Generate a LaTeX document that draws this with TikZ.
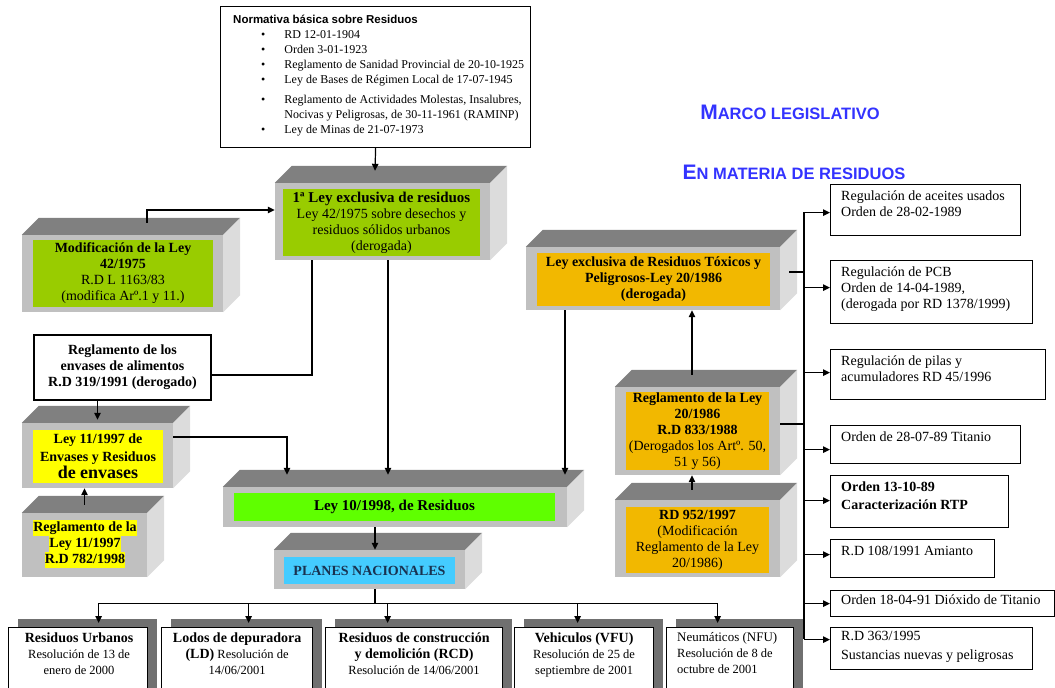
\documentclass[tikz,border=0pt]{standalone}
\usepackage{fontspec}
\setmainfont{Liberation Serif}
\setsansfont{Liberation Sans}
\usepackage{tikz}
\usetikzlibrary{arrows.meta,shadows}

\definecolor{verdeoliva}{RGB}{153,204,0}
\definecolor{verdelima}{RGB}{95,255,0}
\definecolor{amarillo}{RGB}{255,255,0}
\definecolor{naranja}{RGB}{242,184,0}
\definecolor{celeste}{RGB}{68,204,255}
\definecolor{azultitulo}{RGB}{51,51,255}
\definecolor{azulplanes}{RGB}{25,50,80}
\definecolor{grisfrente}{RGB}{192,192,192}
\definecolor{grissup}{RGB}{128,128,128}
\definecolor{grislat}{RGB}{220,220,220}
\definecolor{grissombra}{RGB}{112,112,112}

\tikzset{
  frente/.style={fill=grisfrente, inner sep=0pt},
  cara sup/.style={fill=grissup},
  cara lat/.style={fill=grislat},
  relleno/.style={inner sep=0pt, align=center, font=\fontsize{14}{16}\selectfont},
  caja/.style={draw, fill=white, line width=1.2pt, inner sep=0pt},
  plan/.style={caja, anchor=north west, minimum height=80pt,
    general shadow={fill=grissombra, draw=none, shadow xshift=9pt, shadow yshift=9pt}},
  nota/.style={anchor=north west, inner sep=0pt, align=left, font=\fontsize{14}{16}\selectfont},
  titulo/.style={text=azultitulo, inner sep=0pt, font=\sffamily\bfseries\fontsize{16.5}{18}\selectfont},
  flecha/.style={-{Triangle[length=7pt,width=6.5pt]}, line width=1.2pt},
  linea/.style={line width=1.2pt},
}

% bloque en relieve: nombre, centro, medidas de la cara frontal
\newcommand{\bloque}[3]{%
  \node[frente, #3] (#1) at (#2) {};
  \fill[cara sup] (#1.north west) -- ++(17,-17) -- ([shift={(17,-17)}]#1.north east) -- (#1.north east) -- cycle;
  \fill[cara lat] (#1.north east) -- ++(17,-17) -- ([shift={(17,-17)}]#1.south east) -- (#1.south east) -- cycle;
}
\newcommand{\resalta}[1]{{\setlength{\fboxsep}{0pt}\colorbox{amarillo}{\strut #1}}}

\begin{document}
\begin{tikzpicture}[x=1pt,y=-1pt]
  \path[use as bounding box] (0,0) rectangle (1055,688);
  \clip (0,0) rectangle (1055,688);

  % normativa basica
  \node[caja, anchor=north west, minimum width=310pt, minimum height=141pt] (normativa) at (220,6) {};
  \node[anchor=north west, inner sep=0pt, font=\fontsize{12}{15}\selectfont] (normativaT) at (233,13) {%
    \begin{tabular}{@{\hspace{28pt}}l@{\hspace{19pt}}l@{}}
      \multicolumn{2}{@{}l@{}}{\sffamily\bfseries\fontsize{11.5}{15}\selectfont Normativa básica sobre Residuos}\\
      \textbullet & RD 12-01-1904\\
      \textbullet & Orden 3-01-1923\\
      \textbullet & Reglamento de Sanidad Provincial de 20-10-1925\\
      \textbullet & Ley de Bases de Régimen Local de 17-07-1945\\[5pt]
      \textbullet & Reglamento de Actividades Molestas, Insalubres,\\
                  & Nocivas y Peligrosas, de 30-11-1961 (RAMINP)\\
      \textbullet & Ley de Minas de 21-07-1973
    \end{tabular}};

  % titulo
  \node[titulo] (titulo1) at (790,112) {{\fontsize{21}{18}\selectfont M}ARCO LEGISLATIVO};
  \node[titulo] (titulo2) at (794,172) {{\fontsize{21}{18}\selectfont E}N MATERIA DE RESIDUOS};

  % leyes en relieve
  \bloque{ley75}{382.5,221.5}{minimum width=215pt, minimum height=77pt}
  \node[relleno, fill=verdeoliva, minimum width=197pt, minimum height=67pt] (ley75T) at (381.5,222.5)
    {{\bfseries\fontsize{15}{16}\selectfont 1ª Ley exclusiva de residuos}\\ Ley 42/1975 sobre desechos y\\ residuos sólidos urbanos\\ (derogada)};

  \bloque{mod75}{122.5,273.5}{minimum width=201pt, minimum height=77pt}
  \node[relleno, fill=verdeoliva, minimum width=180pt, minimum height=67pt] (mod75T) at (123,273.5)
    {\textbf{Modificación de la Ley}\\ \textbf{42/1975}\\ R.D L 1163/83\\ (modifica Arº.1 y 11.)};

  \bloque{ley98}{395,507}{minimum width=344pt, minimum height=40pt}
  \node[relleno, fill=verdelima, minimum width=321pt, minimum height=28pt, font=\bfseries\fontsize{15}{16}\selectfont] (ley98T) at (394.5,507)
    {Ley 10/1998, de Residuos};

  \bloque{planes}{369.5,569.5}{minimum width=191pt, minimum height=39pt}
  \node[relleno, fill=celeste, text=azulplanes, minimum width=171pt, minimum height=27pt, font=\bfseries\fontsize{14}{16}\selectfont] (planesT) at (369.5,570.5)
    {PLANES NACIONALES};

  \bloque{ley97}{97.5,455.5}{minimum width=151pt, minimum height=65pt}
  \node[relleno, fill=amarillo, minimum width=130pt, minimum height=53pt, font=\bfseries\fontsize{14}{17.5}\selectfont] (ley97T) at (98,456.5)
    {Ley 11/1997 de\\ Envases y Residuos\\ {\fontsize{18}{17.5}\selectfont de envases}};

  \bloque{reg97}{84.5,545}{minimum width=125pt, minimum height=64pt}
  \node[relleno, font=\bfseries\fontsize{14}{16}\selectfont] (reg97T) at (85,544)
    {\resalta{Reglamento de la}\\ \resalta{Ley 11/1997}\\ \resalta{R.D 782/1998}};

  \bloque{ley86}{653,278.5}{minimum width=254pt, minimum height=63pt}
  \node[relleno, fill=naranja, minimum width=233pt, minimum height=53pt, font=\bfseries\fontsize{14}{16}\selectfont] (ley86T) at (653.5,279.5)
    {Ley exclusiva de Residuos Tóxicos y\\ Peligrosos-Ley 20/1986\\ (derogada)};

  \bloque{reg86}{697.5,431}{minimum width=165pt, minimum height=88pt}
  \node[relleno, fill=naranja, minimum width=143pt, minimum height=78pt] (reg86T) at (697.5,431)
    {\textbf{Reglamento de la Ley}\\ \textbf{20/1986}\\ \textbf{R.D 833/1988}\\ (Derogados los Artº. 50,\\ 51 y 56)};

  \bloque{rd952}{697.5,538.5}{minimum width=165pt, minimum height=77pt}
  \node[relleno, fill=naranja, minimum width=143pt, minimum height=66pt] (rd952T) at (697.5,540)
    {\textbf{RD 952/1997}\\ (Modificación\\ Reglamento de la Ley\\ 20/1986)};

  \node[caja, minimum width=177pt, minimum height=65pt, align=center, font=\bfseries\fontsize{14}{16}\selectfont] (envases) at (122.5,367.5)
    {Reglamento de los\\ envases de alimentos\\ R.D 319/1991 (derogado)};

  % normas de la derecha
  \node[caja, anchor=north west, minimum width=190pt, minimum height=51pt] (aceites) at (830,184) {};
  \node[nota] (aceitesT) at ([shift={(11,7)}]aceites.north west) {Regulación de aceites usados\\ Orden de 28-02-1989};
  \node[caja, anchor=north west, minimum width=202pt, minimum height=63pt] (pcb) at (830,260) {};
  \node[nota] (pcbT) at ([shift={(11,7)}]pcb.north west) {Regulación de PCB\\ Orden de 14-04-1989,\\ (derogada por RD 1378/1999)};
  \node[caja, anchor=north west, minimum width=215pt, minimum height=50pt] (pilas) at (830,349) {};
  \node[nota] (pilasT) at ([shift={(11,7)}]pilas.north west) {Regulación de pilas y\\ acumuladores RD 45/1996};
  \node[caja, anchor=north west, minimum width=190pt, minimum height=38pt] (titanio) at (830,425) {};
  \node[nota] (titanioT) at ([shift={(11,7)}]titanio.north west) {Orden de 28-07-89 Titanio};
  \node[caja, anchor=north west, minimum width=178pt, minimum height=52pt] (rtp) at (830,475) {};
  \node[nota, font=\bfseries\fontsize{14}{18}\selectfont] (rtpT) at ([shift={(11,7)}]rtp.north west) {Orden 13-10-89\\ Caracterización RTP};
  \node[caja, anchor=north west, minimum width=164pt, minimum height=38pt] (amianto) at (830,539) {};
  \node[nota] (amiantoT) at ([shift={(11,7)}]amianto.north west) {R.D 108/1991 Amianto};
  \node[caja, anchor=north west, minimum width=224pt, minimum height=26pt] (dioxido) at (830,590) {};
  \node[nota] (dioxidoT) at ([shift={(11,5)}]dioxido.north west) {Orden 18-04-91 Dióxido de Titanio};
  \node[caja, anchor=north west, minimum width=202pt, minimum height=42pt] (rd363) at (830,627) {};
  \node[nota, font=\fontsize{14}{19}\selectfont] (rd363T) at ([shift={(11,4)}]rd363.north west) {R.D 363/1995\\ Sustancias nuevas y peligrosas};

  % planes nacionales
  \node[plan, minimum width=139pt] (ru) at (8,627) {};
  \node[plan, minimum width=151pt] (ld) at (161,627) {};
  \node[plan, minimum width=177pt] (rcd) at (325,627) {};
  \node[plan, minimum width=139pt] (vfu) at (514,627) {};
  \node[plan, minimum width=127pt] (nfu) at (666,627) {};
  \node[anchor=north, inner sep=0pt, align=center, font=\fontsize{12.5}{16}\selectfont] (ruT) at ([shift={(1,6)}]ru.north)
    {{\bfseries\fontsize{14}{16}\selectfont Residuos Urbanos}\\ Resolución de 13 de\\ enero de 2000};
  \node[anchor=north, inner sep=0pt, align=center, font=\fontsize{12.5}{16}\selectfont] (ldT) at ([shift={(0,6)}]ld.north)
    {{\bfseries\fontsize{14}{16}\selectfont Lodos de depuradora}\\ {\bfseries\fontsize{14}{16}\selectfont (LD)} Resolución de\\ 14/06/2001};
  \node[anchor=north, inner sep=0pt, align=center, font=\fontsize{12.5}{16}\selectfont] (rcdT) at ([shift={(0,6)}]rcd.north)
    {{\bfseries\fontsize{14}{16}\selectfont Residuos de construcción}\\ {\bfseries\fontsize{14}{16}\selectfont y demolición (RCD)}\\ Resolución de 14/06/2001};
  \node[anchor=north, inner sep=0pt, align=center, font=\fontsize{12.5}{16}\selectfont] (vfuT) at ([shift={(0,6)}]vfu.north)
    {{\bfseries\fontsize{14}{16}\selectfont Vehiculos (VFU)}\\ Resolución de 25 de\\ septiembre de 2001};
  \node[anchor=north west, inner sep=0pt, align=left, font=\fontsize{12.5}{16}\selectfont] (nfuT) at ([shift={(11,5)}]nfu.north west)
    {{\fontsize{13}{16}\selectfont Neumáticos (NFU)}\\ Resolución de 8 de\\ octubre de 2001};

  % conexiones
  \draw[flecha] (normativa.south) -- ([shift={(-7.5,-12)}]ley75.north);
  \draw[flecha] ([shift={(24.5,-12)}]mod75.north) |- ([shift={(0,-11.5)}]ley75.west);
  \draw[linea] ([shift={(0,7.5)}]envases.east) -| ([shift={(-70.5,0)}]ley75.south);
  \draw[flecha] (envases.south -| ley97.north) -- ([shift={(0,-3)}]ley97.north);
  \draw[flecha] ([shift={(0,-8)}]reg97.north) -- (reg97.north |- ley97.south);
  \draw[flecha] ([shift={(0,-18.5)}]ley97.east) -| ([shift={(-108,-12)}]ley98.north);
  \draw[flecha] ([shift={(5.5,0)}]ley75.south) -- ([shift={(-7,-12)}]ley98.north);
  \draw[flecha] ([shift={(-88,0)}]ley86.south) -- ([shift={(170,-12)}]ley98.north);
  \draw[flecha] ([shift={(-5.5,-12)}]reg86.north) -- ([shift={(39,0)}]ley86.south);
  \draw[flecha] ([shift={(-5.5,-10)}]rd952.north) -- ([shift={(-5.5,0)}]reg86.south);
  \draw[flecha] ([shift={(-20,0)}]ley98.south) -- ([shift={(5.5,0)}]planes.north);

  \coordinate (repartoPlanes) at ([shift={(5.5,14)}]planes.south);
  \draw[linea] ([shift={(5.5,0)}]planes.south) -- (repartoPlanes);
  \foreach \n/\dx in {ru/20.5, ld/11.5, rcd/-26.5, vfu/-6.5, nfu/-12.5}{
    \coordinate (\n-in) at ([shift={(\dx,-4)}]\n.north);
    \draw[flecha] (\n-in |- repartoPlanes) -- (\n-in);
  }
  \draw[linea] (ru-in |- repartoPlanes) -- (nfu-in |- repartoPlanes);

  \coordinate (busArriba) at (804,212);
  \coordinate (busAbajo) at (804,639);
  \draw[linea] (busArriba) -- (busAbajo);
  \coordinate (ley86-sal) at ([shift={(9,-6.5)}]ley86.east);
  \coordinate (reg86-sal) at ([shift={(0,-7)}]reg86.east);
  \draw[linea] (ley86-sal) -- (busArriba |- ley86-sal);
  \draw[linea] (reg86-sal) -- (busArriba |- reg86-sal);
  \foreach \n/\dy in {aceites/2.5, pcb/-4.5, pilas/-2, titanio/5, rtp/-1, amianto/-4, dioxido/0, rd363/-9}{
    \coordinate (\n-in) at ([shift={(0,\dy)}]\n.west);
    \draw[flecha] (busArriba |- \n-in) -- (\n-in);
  }
\end{tikzpicture}
\end{document}
